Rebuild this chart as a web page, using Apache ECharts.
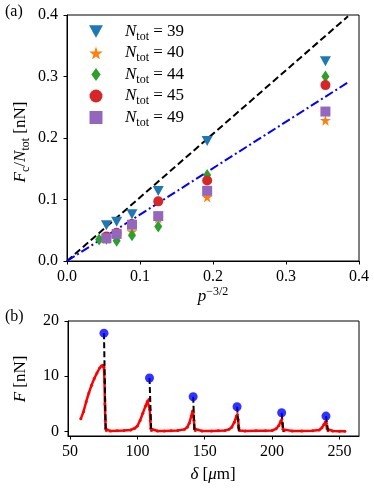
<!DOCTYPE html>
<html>
<head>
<meta charset="utf-8">
<script src="https://cdn.jsdelivr.net/npm/echarts@6/dist/echarts.min.js"></script>
<style>
  html, body { margin: 0; padding: 0; background: #fff; }
  #chart { width: 374px; height: 494px; }
</style>
</head>
<body>
<div id="chart"></div>
<script>
// panel (a): F_c / N_tot against p^(-3/2)
const pX = [0.054, 0.068, 0.089, 0.125, 0.192, 0.354]
const pX44 = [0.044, 0.054, 0.068, 0.089, 0.125, 0.192, 0.354]
const n39 = [0.058, 0.064, 0.076, 0.114, 0.195, 0.325]
const n40 = [0.036, 0.040, 0.048, 0.070, 0.104, 0.229]
const n44 = [0.035, 0.036, 0.033, 0.042, 0.056, 0.140, 0.300]
const n45 = [0.040, 0.046, 0.060, 0.097, 0.131, 0.286]
const n49 = [0.037, 0.044, 0.059, 0.073, 0.114, 0.243]
const refX = [0, 0.385]
const refY = [0, 0.398]
const fitX = [0, 0.387]
const fitY = [0, 0.292]

// panel (b): force trace F(delta)
const xTicksB = [50, 100, 150, 200, 250]
const yTicksB = [0, 10, 20]
const redX = [58, 60, 62, 64, 66, 68, 70, 72, 73.5, 74.5, 75.2, 75.6, 75.9, 76.2, 76.5, 77,
  80, 85, 90, 95, 98, 100, 102, 104, 106, 107.5, 108.5, 109.2, 109.6, 110, 110.5,
  115, 120, 125, 130, 135, 137, 138.5, 140, 141, 141.6, 142, 142.4, 143,
  148, 155, 160, 165, 168, 170, 172, 173.5, 174.3, 174.8, 175.2, 175.8,
  180, 188, 195, 200, 203, 205, 206.5, 207.2, 207.7, 208.1, 209,
  215, 222, 230, 235, 237, 238.5, 239.7, 240.3, 240.8, 241.5, 245, 250, 254]
const redY = [2.3, 3.6, 5.4, 7.0, 8.4, 9.6, 10.6, 11.5, 11.9, 12.0, 11.6, 9.0, 5.0, 2.0, 0.5, 0.2,
  0.1, 0.15, 0.2, 0.3, 0.6, 1.0, 2.0, 3.3, 4.6, 5.5, 5.8, 4.0, 2.0, 0.5, 0.2,
  0.1, 0.1, 0.15, 0.2, 0.4, 0.8, 1.5, 2.8, 3.7, 3.5, 2.0, 0.5, 0.2,
  0.1, 0.1, 0.15, 0.2, 0.4, 0.8, 1.7, 2.8, 3.1, 2.2, 0.8, 0.2,
  0.1, 0.15, 0.15, 0.2, 0.5, 1.1, 1.9, 2.2, 1.4, 0.4, 0.15,
  0.1, 0.1, 0.15, 0.3, 0.7, 1.3, 1.8, 1.5, 0.5, 0.15, 0.1, 0.05, 0.05]
const peakX = [75.2, 109.0, 141.4, 174.0, 207.1, 240.0]
const peakY = [17.8, 9.7, 6.3, 4.5, 3.4, 2.8]
const dropX = [76.5, 110.3, 142.4, 175.3, 208.3, 241.6]

const serif = 'Liberation Serif'
const black = '#000'

const triDown = 'path://M0,0L10,0L5,9Z'
const star = 'path://M50,0L61,35L98,35L68,57L79,91L50,70L21,91L32,57L2,35L39,35Z'
const thinDiamond = 'path://M5,0L10,7L5,14L0,7Z'
const square = 'path://M0,0L10,0L10,10L0,10Z'

const zip = (xs, ys) => xs.map((x, i) => [x, ys[i]])

const chart = echarts.init(document.getElementById('chart'))

const axisCommon = {
  axisLine: { show: true, onZero: false, lineStyle: { color: black, width: 1 } },
  axisTick: { show: true, length: 3.5, lineStyle: { color: black } },
  axisLabel: { color: black, fontFamily: serif, fontSize: 16 },
  splitLine: { show: false }
}

const scatter = (name, xs, ys, symbol, size, color) => ({
  name: name,
  type: 'scatter',
  xAxisIndex: 0,
  yAxisIndex: 0,
  symbol: symbol,
  symbolSize: size,
  itemStyle: { color: color, opacity: 1 },
  data: zip(xs, ys),
  z: 3
})

const rich = {
  g: { width: 17, fontSize: 17, lineHeight: 22 },
  i: { fontFamily: serif, fontStyle: 'italic', fontSize: 17, lineHeight: 22, color: black },
  s: { fontFamily: serif, fontSize: 12, lineHeight: 13, verticalAlign: 'bottom', color: black },
  p: { fontFamily: serif, fontSize: 12, lineHeight: 14, verticalAlign: 'top', color: black },
  t: { fontFamily: serif, fontSize: 17, lineHeight: 22, color: black }
}

const series = [
  {
    type: 'line', xAxisIndex: 0, yAxisIndex: 0, data: zip(refX, refY),
    showSymbol: false, lineStyle: { color: black, width: 2, type: [7, 3.5] }, z: 2, silent: true
  },
  {
    type: 'line', xAxisIndex: 0, yAxisIndex: 0, data: zip(fitX, fitY),
    showSymbol: false, lineStyle: { color: '#0000ff', width: 2, type: [9, 3, 2, 3] }, z: 2, silent: true
  },
  scatter('39', pX, n39, triDown, [11, 10], '#1f77b4'),
  scatter('40', pX, n40, star, 11, '#ff7f0e'),
  scatter('44', pX44, n44, thinDiamond, [8, 12], '#2ca02c'),
  scatter('45', pX, n45, 'circle', 10, '#d62728'),
  scatter('49', pX, n49, square, 10, '#9467bd'),
  {
    type: 'line', xAxisIndex: 1, yAxisIndex: 1, data: zip(redX, redY),
    symbol: 'circle', symbolSize: 3, showAllSymbol: true,
    itemStyle: { color: '#ff0000' }, lineStyle: { color: '#ff0000', width: 2.5 }, z: 2, silent: true
  }
]

peakX.forEach((x, i) => {
  series.push({
    type: 'line', xAxisIndex: 1, yAxisIndex: 1,
    data: [[x, peakY[i]], [dropX[i], 0]],
    showSymbol: false, lineStyle: { color: black, width: 2, type: [6, 3] }, z: 3, silent: true
  })
})

series.push({
  type: 'scatter', xAxisIndex: 1, yAxisIndex: 1, data: zip(peakX, peakY),
  symbol: 'circle', symbolSize: 9, itemStyle: { color: '#0000ff' }, z: 4, silent: true
})

chart.setOption({
  animation: false,
  backgroundColor: '#fff',
  grid: [
    { left: 67, top: 15, width: 292, height: 246, show: true, borderColor: black, borderWidth: 1, backgroundColor: 'transparent' },
    { left: 68, top: 321, width: 291, height: 115, show: true, borderColor: black, borderWidth: 1, backgroundColor: 'transparent' }
  ],
  xAxis: [
    Object.assign({}, axisCommon, {
      type: 'value', gridIndex: 0, min: 0, max: 0.4, interval: 0.1,
      axisLabel: Object.assign({}, axisCommon.axisLabel, { margin: 8, formatter: v => v.toFixed(1) })
    }),
    Object.assign({}, axisCommon, {
      type: 'value', gridIndex: 1, min: 48.5, max: 264.5,
      axisTick: Object.assign({}, axisCommon.axisTick, { customValues: xTicksB }),
      axisLabel: Object.assign({}, axisCommon.axisLabel, { margin: 8, customValues: xTicksB })
    })
  ],
  yAxis: [
    Object.assign({}, axisCommon, {
      type: 'value', gridIndex: 0, min: 0, max: 0.4, interval: 0.1,
      axisLabel: Object.assign({}, axisCommon.axisLabel, { margin: 9, formatter: v => v.toFixed(1) })
    }),
    Object.assign({}, axisCommon, {
      type: 'value', gridIndex: 1, min: -0.8, max: 20,
      axisTick: Object.assign({}, axisCommon.axisTick, { customValues: yTicksB }),
      axisLabel: Object.assign({}, axisCommon.axisLabel, { margin: 9, customValues: yTicksB })
    })
  ],
  legend: {
    orient: 'vertical',
    left: 89,
    top: 23,
    padding: 0,
    itemWidth: 14,
    itemHeight: 13,
    itemGap: 2,
    selectedMode: false,
    data: ['39', '40', '44', '45', '49'],
    formatter: name => '{g| }{i|N}{s|tot}{t| = ' + name + '}',
    textStyle: { rich: rich }
  },
  graphic: [
    { type: 'text', left: 5, top: 4, style: { text: '(a)', font: '16px ' + serif, fill: black } },
    { type: 'text', left: 5, top: 309, style: { text: '(b)', font: '16px ' + serif, fill: black } },
    {
      type: 'text', x: 21, y: 142, rotation: Math.PI / 2,
      style: {
        text: '{i|F}{s|c}{t|/}{i|N}{s|tot}{t| [nN]}', rich: rich,
        align: 'center', verticalAlign: 'middle', textAlign: 'center', textVerticalAlign: 'middle'
      }
    },
    {
      type: 'text', x: 21, y: 379, rotation: Math.PI / 2,
      style: {
        text: '{i|F}{t| [nN]}', rich: rich,
        align: 'center', verticalAlign: 'middle', textAlign: 'center', textVerticalAlign: 'middle'
      }
    },
    {
      type: 'text', x: 213, y: 297,
      style: {
        text: '{i|p}{p|−3/2}', rich: rich,
        align: 'center', verticalAlign: 'middle', textAlign: 'center', textVerticalAlign: 'middle'
      }
    },
    {
      type: 'text', x: 213, y: 475,
      style: {
        text: '{i|δ}{t| [}{i|μ}{t|m]}', rich: rich,
        align: 'center', verticalAlign: 'middle', textAlign: 'center', textVerticalAlign: 'middle'
      }
    }
  ],
  series: series
})
</script>
</body>
</html>
